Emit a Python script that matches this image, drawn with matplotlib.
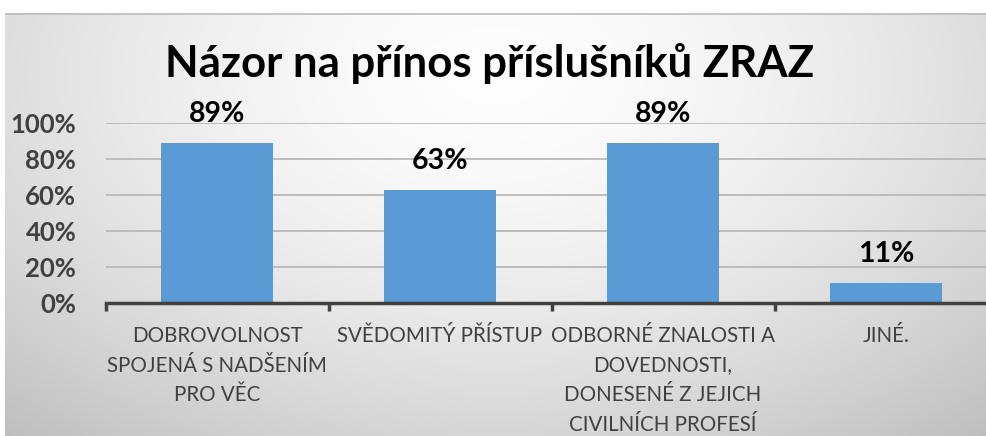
import numpy as np
import matplotlib
matplotlib.use("Agg")
import matplotlib.pyplot as plt
from matplotlib.ticker import PercentFormatter
from matplotlib.transforms import blended_transform_factory

categories = ["DOBROVOLNOST\nSPOJENÁ S NADŠENÍM\nPRO VĚC",
              "SVĚDOMITÝ PŘÍSTUP",
              "ODBORNÉ ZNALOSTI A\nDOVEDNOSTI,\nDONESENÉ Z JEJICH\nCIVILNÍCH PROFESÍ",
              "JINÉ."]
values = [0.89, 0.63, 0.89, 0.11]
value_labels = ["89%", "63%", "89%", "11%"]
title = "Názor na přínos příslušníků ZRAZ"

W, H = 987, 436
fig = plt.figure(figsize=(W/100, H/100), dpi=100)
fig.patch.set_facecolor("white")

# background gradient panel
bg = fig.add_axes([5/W, 0, (W-5)/W, (H-13)/H])
bg.set_axis_off()
ny, nx = 200, 400
yy, xx = np.mgrid[0:1:ny*1j, 0:1:nx*1j]
d = np.sqrt(((xx-0.5)/0.75)**2 + ((yy-0.15)/1.1)**2)
v = 0.995 - 0.24*np.clip(d, 0, 1.2)**1.6
bg.imshow(np.dstack([v, v, v]), aspect="auto", extent=[0, 1, 1, 0])
bg.set_xlim(0, 1); bg.set_ylim(1, 0)
bg.plot([0, 1], [0.002, 0.002], color="#bdbdbd", lw=1.2)

ax = fig.add_axes([105.5/W, 1-303/H, 892/W, 180/H])
ax.patch.set_alpha(0)
x = np.arange(len(categories))
ax.bar(x, values, width=0.5, color="#5B9BD5", zorder=3)
ax.set_xlim(-0.5, len(categories)-0.5)
ax.set_ylim(0, 1.0)
ax.set_yticks(np.arange(0, 1.01, 0.2))
ax.yaxis.set_major_formatter(PercentFormatter(1.0, decimals=0))
ax.grid(axis="y", color="#b4b4b4", lw=1.2, zorder=0)
for s in ["top", "right", "left"]:
    ax.spines[s].set_visible(False)
ax.spines["bottom"].set_color("#404040")
ax.spines["bottom"].set_linewidth(2.5)
ax.spines["bottom"].set_zorder(4)
ax.tick_params(axis="y", length=0, pad=21, labelsize=18.5, labelcolor="#404040")
for t in ax.get_yticklabels():
    t.set_fontweight("bold")
    t.set_family("Lato")
ax.set_xticks(x)
ax.set_xticklabels([""] * len(categories))
ax.tick_params(axis="x", length=0)
ax.set_xticks(np.arange(-0.5, len(categories), 1.0), minor=True)
ax.tick_params(axis="x", which="minor", length=6, width=2.5, color="#404040")

# category labels, line by line for even spacing
trans = blended_transform_factory(ax.transData, fig.transFigure)
for xi, cat in zip(x, categories):
    for i, line in enumerate(cat.split("\n")):
        ax.text(xi, 1 - (342 + 29.5*i)/H, line, transform=trans, ha="center",
                va="baseline", fontsize=14.8, color="#404040", family="Lato")

for xi, v_, lab in zip(x, values, value_labels):
    ax.annotate(lab, (xi, v_), xytext=(0, 15), textcoords="offset points",
                ha="center", va="baseline", fontsize=20.5, fontweight="bold",
                family="Lato", color="black")

fig.text(490/W, 1-77/H, title, ha="center", va="baseline", fontsize=31.5,
         fontweight="bold", family="Lato", color="black")

fig.savefig("out.png", dpi=100)
